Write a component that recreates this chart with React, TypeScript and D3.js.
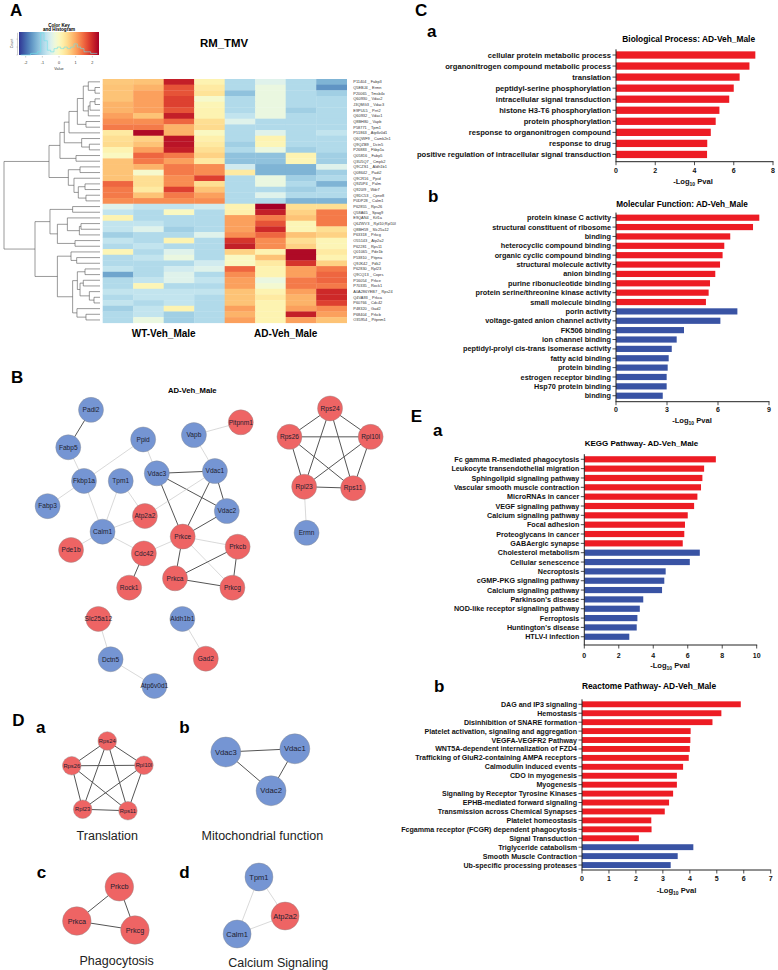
import * as d3 from 'd3'

const FONT = '"Liberation Sans", Arial, Helvetica, sans-serif'
const BAR_RED = '#ed1c24'
const BAR_BLUE = '#3953a4'
const NODE_RED = '#ee6464'
const NODE_BLUE = '#7595d3'

// ---------- panel A: heatmap ----------
const proteins = [
  'P11404 _ Fabp3', 'Q5EBJ4 _ Ermn', 'P20065 _ Tmsb4x', 'Q60930 _ Vdac2', 'J3QMG3 _ Vdac3',
  'E9PUL5 _ Prrt2', 'Q60932 _ Vdac1', 'Q8BH80 _ Vapb', 'P58771 _ Tpm1', 'P51863 _ Atp6v0d1',
  'Q6QWF9 _ Camk2n1', 'Q9QZB9 _ Dctn5', 'P26883 _ Fkbp1a', 'Q05816 _ Fabp5', 'Q3U5Q7 _ Cmpk2',
  'Q9CZS1 _ Aldh1b1', 'Q08642 _ Padi2', 'Q9CR16 _ Ppid', 'Q9Z0P4 _ Palm', 'Q920I9 _ Wdr7',
  'Q9DC53 _ Cpne8', 'P0DP28 _ Calm1', 'P62855 _ Rps26', 'Q58A65 _ Spag9', 'E9QAN4 _ Kif1a',
  'Q6ZWV3 _ Rpl10;Rpl10l', 'Q8BH59 _ Slc25a12', 'P63318 _ Prkcg', 'O55143 _ Atp2a2', 'P62281 _ Rps11',
  'Q01065 _ Pde1b', 'P53810 _ Pitpna', 'Q9JK42 _ Pdk2', 'P62830 _ Rpl23', 'Q9CQ13 _ Coprs',
  'P16054 _ Prkce', 'P70335 _ Rock1', 'A0A286YEB7 _ Rps24', 'Q4VA93 _ Prkca', 'P60766 _ Cdc42',
  'P48320 _ Gad2', 'P68404 _ Prkcb', 'O35954 _ Pitpnm1',
]
const sampleGroups = ['WT-Veh_Male', 'AD-Veh_Male']
// rows = proteins, columns = 4 WT then 4 AD samples (row z-scores)
const heatValues = [
  [0.7, 0.75, 2.1, 0.15, -0.9, -0.45, -0.9, -1.35],
  [0.75, 0.9, 1.65, 0.3, -0.9, -0.3, -0.9, -1.65],
  [0.75, 1.05, 1.65, 0.4, -1.2, -0.3, -0.9, -1.05],
  [0.75, 1.05, 1.8, -0.1, -0.9, -0.3, -0.9, -0.9],
  [0.9, 1.05, 1.8, 0.1, -0.9, -0.3, -0.9, -0.9],
  [0.9, 1.05, 1.65, 0.15, -0.9, -0.3, -1.05, -0.9],
  [1.05, 0.75, 2.1, 0.15, -0.75, -0.3, -0.9, -0.9],
  [1.2, 1.2, 1.5, 0.45, -0.45, -0.9, -0.9, -0.9],
  [1.35, 1.35, 0.9, 0.5, -0.9, -0.9, -0.9, -0.9],
  [0.3, 2.3, 0.9, 0.0, -0.9, -0.45, -0.9, -0.75],
  [0.45, 0.6, 2.2, 0.2, -0.9, 0.15, -0.9, -0.9],
  [0.5, 0.75, 2.2, 0.3, -1.05, 0.1, -0.9, -0.9],
  [0.15, 1.05, 2.1, 0.45, -0.9, -0.3, -1.05, -0.9],
  [0.0, 1.5, 1.35, 0.6, -1.2, -1.2, 0.15, -1.05],
  [0.75, 1.35, 1.05, 0.3, -1.2, -1.2, 0.1, -1.05],
  [0.75, 0.9, 1.35, 1.2, -0.6, -1.35, -1.35, -0.45],
  [0.75, -0.1, 1.35, 1.2, 0.3, -1.35, -1.35, -1.05],
  [0.75, 0.45, 1.2, 1.8, -0.9, -0.3, -1.05, -0.9],
  [1.5, 0.45, 1.2, 0.45, -0.9, -0.3, -0.9, -1.35],
  [1.35, 0.3, 1.8, 0.75, -0.9, -0.9, -1.05, -0.9],
  [1.35, 0.75, 1.35, 1.05, -0.9, -0.45, -0.9, -0.9],
  [1.2, 1.2, 1.2, 1.2, -0.9, -0.9, -1.35, -1.35],
  [-0.45, -0.75, -0.75, -0.6, 0.15, 2.4, 0.45, 0.45],
  [-0.75, -0.9, 0.0, -0.9, 0.2, 2.1, 0.6, 1.35],
  [0.15, -0.9, -0.9, -0.9, 1.05, 1.35, 0.75, 1.35],
  [-0.75, -0.75, -0.9, -0.9, 1.05, 1.65, 0.1, 1.35],
  [-0.75, -0.45, -1.05, -0.9, 1.05, 2.0, 0.1, 0.45],
  [-1.05, -0.9, -0.9, -0.45, 1.2, 1.5, 0.75, 0.6],
  [-0.75, -0.9, 0.15, -0.9, 1.9, 1.2, 0.45, 0.1],
  [-0.9, -0.75, -0.9, -0.9, 2.1, 1.2, 0.6, 0.1],
  [0.1, -0.9, -0.45, -0.9, 0.6, 0.15, 2.3, 0.3],
  [-0.9, -0.75, -0.3, -0.9, 0.0, 0.75, 2.3, 0.15],
  [-0.9, -0.9, -0.9, -0.6, 0.0, 0.3, 1.9, 0.6],
  [-0.75, -0.9, -0.6, -0.45, 1.5, 0.15, 1.05, 1.35],
  [-1.5, -0.9, -0.45, -0.9, 1.2, 0.15, 1.05, 1.5],
  [-0.9, -0.75, -0.45, -0.75, 1.05, -0.3, 1.35, 1.5],
  [-0.9, 0.1, -0.9, -0.9, 1.05, -0.15, 1.35, 1.35],
  [-0.75, -0.75, -0.75, -0.75, 0.75, 0.15, 1.05, 2.0],
  [-0.9, -0.75, -0.75, -0.9, 0.75, 0.3, 0.9, 2.0],
  [-0.75, -0.9, -0.75, -0.9, 0.75, 0.15, 0.9, 1.8],
  [-1.05, -0.75, 0.15, -0.9, 1.05, 0.15, 1.05, 1.2],
  [-0.9, -0.75, -1.05, -0.9, 0.9, 0.15, 2.1, 1.05],
  [-0.9, -0.3, -1.05, -0.9, 1.05, 0.15, 1.05, 0.75],
]
// colour key histogram: counts in bins of 0.2 starting at -2.3
const keyBinStart = -2.3
const keyBinWidth = 0.2
const keyCounts = [0, 0, 0, 1, 1, 2, 14, 9, 3, 2, 4, 5, 4, 5, 4, 5, 7, 5, 4, 2, 2, 1, 1]
const keyTicks = [-2, -1, 0, 1, 2]

type Tree = number | { h: number; c: [Tree, Tree] }
function n(h: number, a: Tree, b: Tree): Tree {
  return { h, c: [a, b] }
}
// row dendrogram (merge heights relative to root)
const rowDendrogram: Tree = n(1.0,
  n(0.531,
    n(0.417,
      n(0.372,
        n(0.323,
          n(0.236,
            n(0.174, n(0.122, 0, n(0.052, 1, 2)), n(0.122, n(0.104, n(0.052, 3, 4), 5), 6)),
            n(0.146, 7, 8)),
          9),
        n(0.191, 10, n(0.111, 11, 12))),
      n(0.25, 13, 14)),
    n(0.33, n(0.208, 15, 16), n(0.271, 17, n(0.226, n(0.156, 18, 19), n(0.146, 20, 21))))),
  n(0.677,
    n(0.521, n(0.285, 22, 23), n(0.444, n(0.34, 24, n(0.215, n(0.198, 25, 26), 27)), n(0.26, 28, 29))),
    n(0.444, n(0.302, 30, n(0.243, 31, 32)),
      n(0.285,
        n(0.236, n(0.156, 33, 34), n(0.208, n(0.174, 35, 36), n(0.111, 37, n(0.0625, 38, 39)))),
        n(0.24, 40, n(0.146, 41, 42))))))

// ---------- panels C / E: enrichment bars ----------
const bpTerms = [
  'cellular protein metabolic process', 'organonitrogen compound metabolic process', 'translation',
  'peptidyl-serine phosphorylation', 'intracellular signal transduction', 'histone H3-T6 phosphorylation',
  'protein phosphorylation', 'response to organonitrogen compound', 'response to drug',
  'positive regulation of intracellular signal transduction',
]
const bpValues = [7.1, 6.8, 6.3, 6.0, 5.77, 5.27, 5.08, 4.83, 4.65, 4.64]
const bpUpCount = 10

const mfTerms = [
  'protein kinase C activity', 'structural constituent of ribosome', 'binding', 'heterocyclic compound binding',
  'organic cyclic compound binding', 'structural molecule activity', 'anion binding', 'purine ribonucleotide binding',
  'protein serine/threonine kinase activity', 'small molecule binding', 'porin activity',
  'voltage-gated anion channel activity', 'FK506 binding', 'ion channel binding',
  'peptidyl-prolyl cis-trans isomerase activity', 'fatty acid binding', 'protein binding',
  'estrogen receptor binding', 'Hsp70 protein binding', 'binding',
]
const mfValues = [8.43, 8.06, 6.72, 6.37, 6.27, 6.12, 5.84, 5.53, 5.45, 5.29, 7.14, 6.14, 4.0, 3.57, 3.28, 3.1, 3.04, 2.98, 2.98, 2.75]
const mfUpCount = 10

const keggTerms = [
  'Fc gamma R-mediated phagocytosis', 'Leukocyte transendothelial migration', 'Sphingolipid signaling pathway',
  'Vascular smooth muscle contraction', 'MicroRNAs in cancer', 'VEGF signaling pathway', 'Calcium signaling pathway',
  'Focal adhesion', 'Proteoglycans in cancer', 'GABAergic synapse', 'Cholesterol metabolism', 'Cellular senescence',
  'Necroptosis', 'cGMP-PKG signaling pathway', 'Calcium signaling pathway', "Parkinson's disease",
  'NOD-like receptor signaling pathway', 'Ferroptosis', "Huntington's disease", 'HTLV-I infection',
]
const keggValues = [7.63, 6.95, 6.85, 6.77, 6.56, 6.37, 6.0, 5.84, 5.8, 5.71, 6.7, 6.12, 4.72, 4.64, 4.51, 3.42, 3.22, 3.08, 3.04, 2.61]
const keggUpCount = 10

const reactTerms = [
  'DAG and IP3 signaling', 'Hemostasis', 'Disinhibition of SNARE formation',
  'Platelet activation, signaling and aggregation', 'VEGFA-VEGFR2 Pathway', 'WNT5A-dependent internalization of FZD4',
  'Trafficking of GluR2-containing AMPA receptors', 'Calmodulin induced events', 'CDO in myogenesis', 'Myogenesis',
  'Signaling by Receptor Tyrosine Kinases', 'EPHB-mediated forward signaling', 'Transmission across Chemical Synapses',
  'Platelet homeostasis', 'Fcgamma receptor (FCGR) dependent phagocytosis', 'Signal Transduction',
  'Triglyceride catabolism', 'Smooth Muscle Contraction', 'Ub-specific processing proteases',
]
const reactValues = [5.89, 5.17, 4.84, 4.03, 4.02, 4.0, 3.96, 3.75, 3.52, 3.52, 3.38, 3.23, 3.07, 2.57, 2.58, 2.11, 4.13, 3.55, 3.29]
const reactUpCount = 16

// ---------- panels B / D: interaction networks ----------
const upProteins = ['Pitpnm1', 'Atp2a2', 'Pde1b', 'Cdc42', 'Prkce', 'Prkcb', 'Prkca', 'Prkcg', 'Rock1',
  'Rps24', 'Rps26', 'Rpl10l', 'Rpl23', 'Rps11', 'Slc25a12', 'Gad2']

// layout positions in a 0-100 grid
const bLayout: [string, number, number][] = [
  ['Padi2', 16, 3.4], ['Fabp5', 9.5, 16.3], ['Ppid', 30.9, 13.6], ['Vapb', 45.4, 12.1], ['Pitpnm1', 58.8, 7.7],
  ['Fkbp1a', 14, 27.9], ['Tpm1', 24.5, 27.9], ['Vdac3', 34.8, 25.3], ['Vdac1', 51.4, 24.5], ['Fabp3', 3.6, 36.6],
  ['Atp2a2', 31.4, 40], ['Vdac2', 54.8, 38.3], ['Calm1', 19.3, 45.4], ['Prkce', 42.2, 47.1], ['Pde1b', 10.3, 51.7],
  ['Cdc42', 31.1, 52.9], ['Prkcb', 57.9, 50.6], ['Prkca', 40, 61.5], ['Prkcg', 56.4, 64.7], ['Rock1', 26.9, 64.7],
  ['Rps24', 84.3, 2.9], ['Rps26', 72.7, 12.7], ['Rpl10l', 95.9, 12.7], ['Rpl23', 76.9, 29.9], ['Rps11', 90.9, 30.4],
  ['Ermn', 77.6, 45.8], ['Slc25a12', 18.1, 75.5], ['Aldh1b1', 42.1, 75.5], ['Dctn5', 21.6, 89.4],
  ['Atp6v0d1', 34.1, 98.6], ['Gad2', 48.8, 89.2],
]
// [source, target, combined interaction score]
const bEdges: [string, string, number][] = [
  ['Padi2', 'Fabp5', 0.9], ['Fabp5', 'Fkbp1a', 0.4], ['Fkbp1a', 'Fabp3', 0.4], ['Fkbp1a', 'Ppid', 0.4],
  ['Fkbp1a', 'Calm1', 0.4], ['Tpm1', 'Calm1', 0.4], ['Tpm1', 'Atp2a2', 0.4], ['Ppid', 'Vdac3', 0.4],
  ['Vapb', 'Pitpnm1', 0.4], ['Vapb', 'Vdac1', 0.4], ['Vdac3', 'Vdac1', 0.9], ['Vdac3', 'Vdac2', 0.9],
  ['Vdac1', 'Vdac2', 0.9], ['Vdac3', 'Prkce', 0.9], ['Vdac1', 'Prkce', 0.9], ['Vdac2', 'Prkce', 0.9],
  ['Vdac1', 'Atp2a2', 0.4], ['Atp2a2', 'Calm1', 0.4], ['Calm1', 'Pde1b', 0.4], ['Calm1', 'Cdc42', 0.4],
  ['Cdc42', 'Prkce', 0.4], ['Cdc42', 'Rock1', 0.9], ['Prkce', 'Prkca', 0.9], ['Prkce', 'Prkcb', 0.4],
  ['Prkce', 'Prkcg', 0.4], ['Prkca', 'Prkcb', 0.9], ['Prkca', 'Prkcg', 0.9], ['Prkcb', 'Prkcg', 0.9],
  ['Rps24', 'Rps26', 0.9], ['Rps24', 'Rpl10l', 0.9], ['Rps24', 'Rpl23', 0.9], ['Rps24', 'Rps11', 0.9],
  ['Rps26', 'Rpl10l', 0.9], ['Rps26', 'Rpl23', 0.9], ['Rps26', 'Rps11', 0.9], ['Rpl10l', 'Rpl23', 0.9],
  ['Rpl10l', 'Rps11', 0.9], ['Rpl23', 'Rps11', 0.9], ['Rpl23', 'Ermn', 0.4],
  ['Slc25a12', 'Dctn5', 0.4], ['Dctn5', 'Atp6v0d1', 0.4], ['Aldh1b1', 'Gad2', 0.4],
]
const modules = [
  { key: 'a', name: 'Translation', members: ['Rps24', 'Rps26', 'Rpl10l', 'Rpl23', 'Rps11'] },
  { key: 'b', name: 'Mitochondrial function', members: ['Vdac3', 'Vdac1', 'Vdac2'] },
  { key: 'c', name: 'Phagocytosis', members: ['Prkcb', 'Prkca', 'Prkcg'] },
  { key: 'd', name: 'Calcium Signaling', members: ['Tpm1', 'Atp2a2', 'Calm1'] },
]
const dLayout: Record<string, [string, number, number][]> = {
  a: [['Rps24', 27.5, 8.4], ['Rps26', 18.4, 18.3], ['Rpl10l', 36.9, 18.1], ['Rpl23', 21.2, 35.7], ['Rps11', 32.8, 36.3]],
  b: [['Vdac3', 57.9, 12.8], ['Vdac1', 75.6, 11.5], ['Vdac2', 69.5, 28.3]],
  c: [['Prkcb', 30.6, 66.7], ['Prkca', 19.7, 80.4], ['Prkcg', 34.6, 84]],
  d: [['Tpm1', 66.4, 62.8], ['Atp2a2', 73.1, 78.4], ['Calm1', 60.8, 85.6]],
}

// ---------- helpers ----------
function dendroSegs(t: Tree, yOf: (i: number) => number, xOf: (h: number) => number, out: number[][]): { y: number; h: number } {
  if (typeof t === 'number') return { y: yOf(t), h: 0 }
  const a = dendroSegs(t.c[0], yOf, xOf, out)
  const b = dendroSegs(t.c[1], yOf, xOf, out)
  const x = xOf(t.h)
  out.push([x, a.y, x, b.y])
  out.push([x, a.y, xOf(a.h), a.y])
  out.push([x, b.y, xOf(b.h), b.y])
  return { y: (a.y + b.y) / 2, h: t.h }
}

const heatColor = d3.scaleSequential((t: number) => d3.interpolateRdYlBu(1 - t)).domain([-2.4, 2.4])

function Heatmap() {
  const x = d3.scaleBand<number>(d3.range(8), [102.7, 346.7])
  const y = d3.scaleBand<number>(d3.range(proteins.length), [79, 322.8])
  const dx = d3.scaleLinear([0, 1], [100, 4])
  const segs: number[][] = []
  dendroSegs(rowDendrogram, i => (y(i) as number) + y.bandwidth() / 2, dx, segs)

  // colour key
  const kx = d3.scaleLinear([-2.4, 2.4], [19, 99])
  const ky = d3.scaleLinear([0, 14.5], [55, 32])
  const histPts: [number, number][] = keyCounts.map((c, i) => [keyBinStart + i * keyBinWidth, c])
  histPts.push([keyBinStart + keyCounts.length * keyBinWidth, keyCounts[keyCounts.length - 1]])
  const hist = d3.line<[number, number]>().x(d => kx(d[0])).y(d => ky(d[1])).curve(d3.curveStepAfter)
  const stops = d3.range(0, 1.0001, 0.05)
  const groupX = d3.scaleBand<number>([0, 1], [102.7, 346.7])

  return (
    <g>
      <defs>
        <linearGradient id="keyGrad" x1="0" x2="1" y1="0" y2="0">
          {stops.map(s => <stop key={s} offset={s} stopColor={heatColor(-2.4 + 4.8 * s)} />)}
        </linearGradient>
      </defs>
      <text x={59} y={26.5} fontSize={4.6} fontWeight="bold" textAnchor="middle">Color Key</text>
      <text x={59} y={31.3} fontSize={4.6} fontWeight="bold" textAnchor="middle">and Histogram</text>
      <rect x={19} y={32} width={80} height={23} fill="url(#keyGrad)" />
      <path d={hist(histPts) || ''} fill="none" stroke="#6ee0ea" strokeWidth={0.6} />
      <line x1={17.5} x2={17.5} y1={ky(0)} y2={ky(14)} stroke="#555" strokeWidth={0.3} />
      {[0, 5, 10].map(c => <line key={c} x1={16.5} x2={17.5} y1={ky(c)} y2={ky(c)} stroke="#555" strokeWidth={0.3} />)}
      <text transform="translate(13,43.5) rotate(-90)" fontSize={3.6} textAnchor="middle" fill="#444">Count</text>
      {keyTicks.map(t => (
        <g key={t}>
          <line x1={kx(t)} x2={kx(t)} y1={56} y2={57.5} stroke="#555" strokeWidth={0.3} />
          <text x={kx(t)} y={63.5} fontSize={3.8} textAnchor="middle" fill="#333">{t}</text>
        </g>
      ))}
      <text x={59} y={70} fontSize={3.8} textAnchor="middle" fill="#333">Value</text>

      <text x={224} y={46.7} fontSize={11.4} fontWeight="bold" textAnchor="middle">RM_TMV</text>

      {heatValues.map((row, r) =>
        row.map((v, c) => (
          <rect key={`${r}-${c}`} x={x(c)} y={y(r)} width={x.bandwidth() + 0.3} height={y.bandwidth() + 0.3} fill={heatColor(v)} />
        ))
      )}
      {proteins.map((p, r) => (
        <text key={p} x={353.3} y={(y(r) as number) + y.bandwidth() / 2} dy="0.35em" fontSize={3.9} fill="#333">{p}</text>
      ))}
      {segs.map((s, i) => (
        <line key={i} x1={s[0]} y1={s[1]} x2={s[2]} y2={s[3]} stroke="#555" strokeWidth={0.6} />
      ))}
      {sampleGroups.map((g, i) => (
        <text key={g} x={(groupX(i) as number) + groupX.bandwidth() / 2} y={337} fontSize={10} fontWeight="bold" textAnchor="middle">{g}</text>
      ))}
    </g>
  )
}

type BarCfg = {
  x0: number; x1: number; max: number; ticks: number[]; first: number; step: number; axisY: number;
  tickY: number; axisTitleX: number; axisTitleY: number; title: string; titleX: number; titleY: number;
  font: number; titleFont: number
}

function BarPanel({ cfg, terms, values, upCount }: { cfg: BarCfg; terms: string[]; values: number[]; upCount: number }) {
  const x = d3.scaleLinear([0, cfg.max], [cfg.x0, cfg.x1])
  const count = terms.length
  const pad = 0.34
  const y = d3.scaleBand<number>(d3.range(count), [cfg.first - cfg.step / 2, cfg.first + cfg.step * (count - 0.5)])
    .paddingInner(pad).paddingOuter(pad / 2)
  const cy = (i: number) => (y(i) as number) + y.bandwidth() / 2
  return (
    <g>
      <text x={cfg.titleX} y={cfg.titleY} fontSize={cfg.titleFont} fontWeight="bold" textAnchor="middle">{cfg.title}</text>
      {values.map((v, i) => (
        <rect key={i} x={x(0)} y={y(i)} width={x(v) - x(0)} height={y.bandwidth()} fill={i < upCount ? BAR_RED : BAR_BLUE} />
      ))}
      {terms.map((t, i) => (
        <g key={i}>
          <line x1={cfg.x0 - 3.5} x2={cfg.x0} y1={cy(i)} y2={cy(i)} stroke="#222" strokeWidth={0.8} />
          <text x={cfg.x0 - 5} y={cy(i)} dy="0.35em" fontSize={cfg.font} fontWeight="bold" textAnchor="end" fill="#111">{t}</text>
        </g>
      ))}
      <line x1={cfg.x0} x2={cfg.x0} y1={(y(0) as number) - 2} y2={cfg.axisY} stroke="#222" strokeWidth={1} />
      <line x1={cfg.x0 - 0.5} x2={cfg.x1 + 0.5} y1={cfg.axisY} y2={cfg.axisY} stroke="#222" strokeWidth={1} />
      {cfg.ticks.map(t => (
        <g key={t}>
          <line x1={x(t)} x2={x(t)} y1={cfg.axisY} y2={cfg.axisY + 3.5} stroke="#222" strokeWidth={0.8} />
          <text x={x(t)} y={cfg.tickY} fontSize={7} fontWeight="bold" textAnchor="middle" fill="#111">{t}</text>
        </g>
      ))}
      <text x={cfg.axisTitleX} y={cfg.axisTitleY} fontSize={7.6} fontWeight="bold" textAnchor="middle" fill="#111">
        -Log<tspan fontSize={5} dy={2}>10</tspan><tspan dy={-2}> Pval</tspan>
      </text>
    </g>
  )
}

const edgeColor = d3.scaleThreshold<number, string>().domain([0.7]).range(['#c9c9c9', '#555555'])
const edgeWidth = d3.scaleThreshold<number, number>().domain([0.7]).range([0.7, 1.0])

function Network({ layout, edges, xs, ys, r, fs }: {
  layout: [string, number, number][]; edges: [string, string, number][];
  xs: d3.ScaleLinear<number, number>; ys: d3.ScaleLinear<number, number>; r: number; fs: number
}) {
  const pos = new Map(layout.map(d => [d[0], [xs(d[1]), ys(d[2])]]))
  return (
    <g>
      {edges.filter(e => pos.has(e[0]) && pos.has(e[1])).map(e => {
        const a = pos.get(e[0])!, b = pos.get(e[1])!
        return <line key={e[0] + e[1]} x1={a[0]} y1={a[1]} x2={b[0]} y2={b[1]} stroke={edgeColor(e[2])} strokeWidth={edgeWidth(e[2])} />
      })}
      {layout.map(d => {
        const p = pos.get(d[0])!
        return (
          <g key={d[0]}>
            <circle cx={p[0]} cy={p[1]} r={r} fill={upProteins.includes(d[0]) ? NODE_RED : NODE_BLUE} stroke="#8a8a8a" strokeWidth={0.4} />
            <text x={p[0]} y={p[1]} dy="0.35em" fontSize={fs} textAnchor="middle" fill="#1e1e30">{d[0]}</text>
          </g>
        )
      })}
    </g>
  )
}

const bpCfg: BarCfg = { x0: 616, x1: 773, max: 8, ticks: [0, 2, 4, 6, 8], first: 55, step: 11.05, axisY: 161.7, tickY: 172.5,
  axisTitleX: 693, axisTitleY: 183.5, title: 'Biological Process: AD-Veh_Male', titleX: 688.7, titleY: 42.3, font: 7.6, titleFont: 8.4 }
const mfCfg: BarCfg = { x0: 616, x1: 769, max: 9, ticks: [0, 3, 6, 9], first: 217.7, step: 9.37, axisY: 401.7, tickY: 412,
  axisTitleX: 692, axisTitleY: 423, title: 'Molecular Function: AD-Veh_Male', titleX: 682, titleY: 206.7, font: 7.3, titleFont: 8.2 }
const keggCfg: BarCfg = { x0: 584.3, x1: 756.7, max: 10, ticks: [0, 2, 4, 6, 8, 10], first: 459.3, step: 9.34, axisY: 645, tickY: 657.5,
  axisTitleX: 670, axisTitleY: 667.5, title: 'KEGG Pathway- AD-Veh_Male', titleX: 641.5, titleY: 446, font: 7.2, titleFont: 8 }
const reactCfg: BarCfg = { x0: 582, x1: 770.7, max: 7, ticks: [0, 1, 2, 3, 4, 5, 6, 7], first: 704.3, step: 8.93, axisY: 870, tickY: 881.3,
  axisTitleX: 676.5, axisTitleY: 893, title: 'Reactome Pathway- AD-Veh_Male', titleX: 649, titleY: 689.3, font: 7.1, titleFont: 8.4 }

const dModuleStyle: Record<string, { r: number; fs: number; label: [number, number]; letter: [number, number] }> = {
  a: { r: 9.3, fs: 5.8, label: [107.3, 840], letter: [36, 732.7] },
  b: { r: 15, fs: 7.7, label: [262.3, 840], letter: [179.3, 732.7] },
  c: { r: 14.3, fs: 7.2, label: [116.7, 965], letter: [36.7, 877.7] },
  d: { r: 14, fs: 7.5, label: [278.3, 967], letter: [179.3, 877.7] },
}

export default function App() {
  const bx = d3.scaleLinear([0, 100], [35, 385])
  const by = d3.scaleLinear([0, 100], [400, 690])
  const dx = d3.scaleLinear([0, 100], [0, 390])
  const dy = d3.scaleLinear([0, 100], [720, 970])
  const big = { fontSize: 17, fontWeight: 'bold' as const }
  return (
    <svg width={778} height={970} viewBox="0 0 778 970" style={{ position: 'absolute', left: 0, top: 0, background: '#fff' }} fontFamily={FONT}>
      <rect width={778} height={970} fill="#fff" />
      <text x={10} y={15.5} {...big}>A</text>
      <Heatmap />

      <text x={11} y={382.7} {...big}>B</text>
      <text x={192.3} y={393} fontSize={7.7} fontWeight="bold" textAnchor="middle">AD-Veh_Male</text>
      <Network layout={bLayout} edges={bEdges} xs={bx} ys={by} r={12.5} fs={6.6} />

      <text x={12.3} y={726} {...big}>D</text>
      {modules.map(m => {
        const st = dModuleStyle[m.key]
        const es = bEdges.filter(e => m.members.includes(e[0]) && m.members.includes(e[1]))
        return (
          <g key={m.key}>
            <text x={st.letter[0]} y={st.letter[1]} {...big}>{m.key}</text>
            <Network layout={dLayout[m.key]} edges={es} xs={dx} ys={dy} r={st.r} fs={st.fs} />
            <text x={st.label[0]} y={st.label[1]} fontSize={12.5} textAnchor="middle" fill="#222">{m.name}</text>
          </g>
        )
      })}

      <text x={415} y={15.5} {...big}>C</text>
      <text x={427} y={37.3} {...big}>a</text>
      <BarPanel cfg={bpCfg} terms={bpTerms} values={bpValues} upCount={bpUpCount} />
      <text x={428} y={201.7} {...big}>b</text>
      <BarPanel cfg={mfCfg} terms={mfTerms} values={mfValues} upCount={mfUpCount} />

      <text x={410.7} y={421.5} {...big}>E</text>
      <text x={433} y={436} {...big}>a</text>
      <BarPanel cfg={keggCfg} terms={keggTerms} values={keggValues} upCount={keggUpCount} />
      <text x={434} y={691.7} {...big}>b</text>
      <BarPanel cfg={reactCfg} terms={reactTerms} values={reactValues} upCount={reactUpCount} />
    </svg>
  )
}
